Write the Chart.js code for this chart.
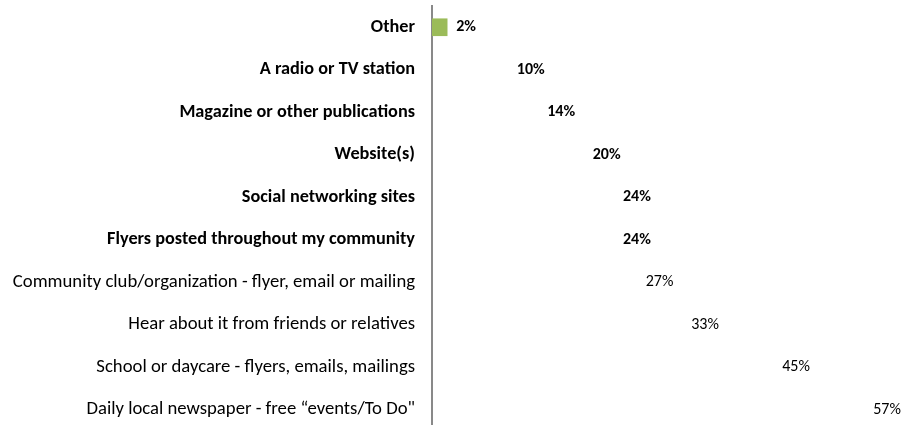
<!DOCTYPE html>
<html>
<head>
<meta charset="utf-8">
<script src="https://cdn.jsdelivr.net/npm/chart.js@4.4.1/dist/chart.umd.min.js"></script>
<style>
    html, body { margin: 0; padding: 0; background: #fff; overflow: hidden; }
    .chart-container { position: relative; width: 901px; height: 431px; }
</style>
</head>
<body>
<div class="chart-container"><canvas id="source-chart"></canvas></div>
<script>
// Categories, top to bottom
const categories = [
    'Other',
    'A radio or TV station',
    'Magazine or other publications',
    'Website(s)',
    'Social networking sites',
    'Flyers posted throughout my community',
    'Community club/organization - flyer, email or mailing',
    'Hear about it from friends or relatives',
    'School or daycare - flyers, emails, mailings',
    'Daily local newspaper - free \u201cevents/To Do"'
];

// Percent of respondents
const percents = [2, 10, 14, 20, 24, 24, 27, 33, 45, 57];

// Rows drawn in bold (first six)
const boldRows = 6;

const FONT = 'Carlito, Lato, "Open Sans", sans-serif';

// Draw value labels at the end of each bar
const valueLabels = {
    id: 'valueLabels',
    afterDatasetsDraw(chart) {
        const ctx = chart.ctx;
        const meta = chart.getDatasetMeta(0);
        ctx.save();
        ctx.fillStyle = '#000';
        ctx.textAlign = 'left';
        ctx.textBaseline = 'middle';
        meta.data.forEach(function(bar, i) {
            ctx.font = (i < boldRows ? 'bold ' : '') + '16px ' + FONT;
            ctx.fillText(percents[i] + '%', bar.x + 9, bar.y);
        });
        ctx.restore();
    }
};

const ctx = document.getElementById('source-chart').getContext('2d');

new Chart(ctx, {
    type: 'bar',
    data: {
        labels: categories,
        datasets: [{
            data: percents,
            backgroundColor: function(c) {
                return c.dataIndex === 0 ? '#9BBB59' : 'rgba(0,0,0,0)';
            },
            barThickness: 17
        }]
    },
    options: {
        indexAxis: 'y',
        responsive: true,
        maintainAspectRatio: false,
        animation: false,
        layout: { padding: { top: 6, right: 14, bottom: 0, left: 0 } },
        plugins: {
            legend: { display: false },
            tooltip: { enabled: false }
        },
        scales: {
            x: {
                display: false,
                min: 0,
                max: 60
            },
            y: {
                afterFit: function(scale) {
                    // fixed label column, no extra top/bottom padding
                    scale.width = 432;
                    scale.paddingTop = 0;
                    scale.paddingBottom = 0;
                },
                grid: { display: false, drawTicks: false },
                border: { display: true, color: '#898989', width: 2 },
                ticks: {
                    padding: 17,
                    color: '#000',
                    font: function(c) {
                        const bold = c.index < boldRows;
                        return {
                            family: FONT,
                            size: bold ? 18.25 : 18.7,
                            weight: bold ? 'bold' : 'normal'
                        };
                    }
                }
            }
        }
    },
    plugins: [valueLabels]
});
</script>
</body>
</html>
